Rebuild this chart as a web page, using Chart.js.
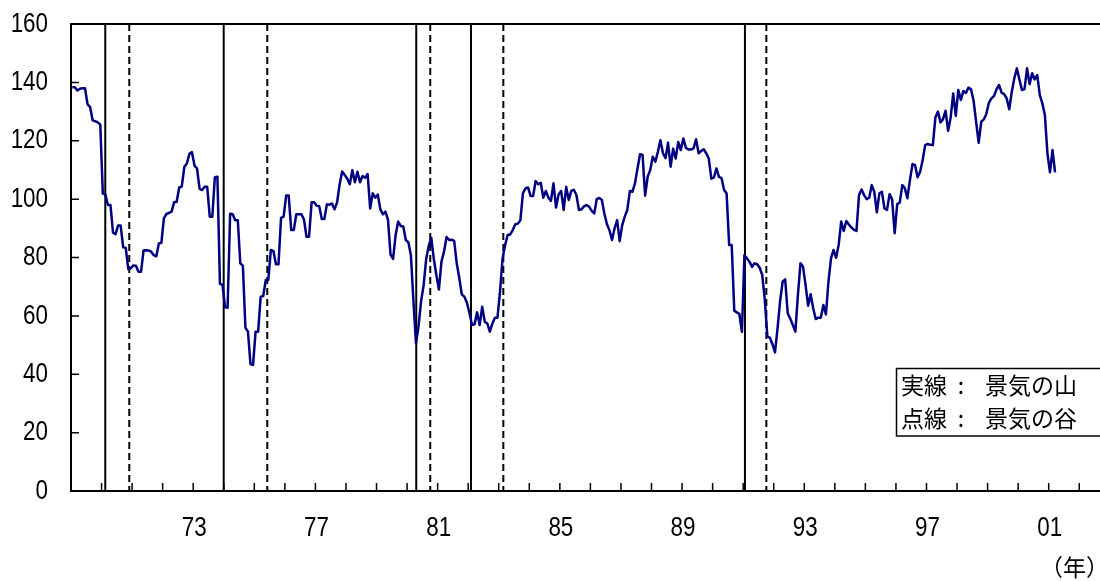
<!DOCTYPE html>
<html><head><meta charset="utf-8">
<script src="https://cdn.jsdelivr.net/npm/chart.js@4"></script>
<style>html,body{margin:0;padding:0;background:#fff;}#wrap{width:1100px;height:581px;}</style>
</head><body><div id="wrap"><canvas id="c" width="1100" height="581"></canvas></div>
<script>
// monthly index values, first value = Jan 1969
const startYear = 1969;
const series1969to1976 = [
  138.3,138.3,137.2,137.8,138,138,132.5,131.6,127,126.7,126.3,125.5,
  101.9,101.6,98,98,88.5,88,91,91,83.5,83.3,76,76.3,
  77.3,77.2,75.1,75.1,82.4,82.5,82.4,82,80.8,80.4,84.8,85,
  93.5,94.9,95.3,95.7,98.9,99.1,104,104.3,111,112.2,115.5,116.1,
  111.5,110.5,103.5,103.1,104.2,104.2,94,94,107.5,107.7,71,70.6,
  63,62.8,95,94.8,92.8,92.8,78,77.2,56,54.6,43.5,43.2,
  54.6,54.6,66.6,66.8,72.3,72.3,82.6,82.2,77.7,77.7,93.6,94,
  101.2,101.2,89.4,89.4,94.8,94.8,94.8,93,87.1,87.1,98.9,98.9
];
const series1977to1984 = [
  97.7,97.6,93.2,93.2,98.2,98.1,98.5,96.5,98.9,105,109.5,108.3,
  107,105.1,109.9,105.8,109.4,105.8,107.9,107.3,108.6,96.8,102,100.5,
  101.6,96.5,94.8,95.7,93,81,79.5,87.7,92.3,90.8,90.6,86,
  85.2,80.8,65,50.6,56.5,65,70.5,79.5,84,86.8,79.5,74,
  69,78.6,82,87,86,86.1,85.7,78,73,67.3,66.6,64.5,
  61,56.9,57.1,61.2,56.9,63.1,58,57.4,54.6,57.4,59.4,59.4,
  68.3,79.7,84.3,87.7,87.9,89.4,91.4,91.6,92.8,102,103.7,104,
  101.1,101.1,106.2,105.1,105.6,100.5,102.8,100.5,99.4,105.4,97.1,101.6
];
const series1985to1992 = [
  102.8,96.3,104.2,99.7,102.8,103.2,101.4,96.3,96.5,97.5,98,97.4,
  96,95.1,100,100.4,99.7,95,91.4,89.3,86,90,92.8,85.6,
  91.1,94,96.3,102.8,102.5,105.4,110.5,115.4,115.1,101.2,107.7,110,
  114.5,112.8,116.2,120.2,115.7,114,119.3,111.1,117.3,113.9,119.6,116.8,
  120.8,117.6,117,117,117.4,120.5,115.7,116.5,117.1,115.7,113.9,107,
  107.4,110.5,107.6,107.2,103.1,101.9,84.3,84.3,61.8,61.2,60.7,54.5,
  80.8,79.7,78.5,76.8,78,77.7,76.5,74,65.5,53,52.5,50.3,
  47.5,55.7,65,71.7,72.5,60.9,59,56.9,54.6,67.1,78,76.9
];
const series1993to2001 = [
  70.6,63.5,67.4,62.6,58.9,59.4,59.4,63.7,60.5,71.7,79.7,82.6,
  79.9,84.3,92.3,89.1,92.5,91.3,90.3,89.5,89.1,101.4,103.3,101.4,
  100,100.5,104.8,102.5,95.5,102,102.5,96.8,96.3,101.7,99.9,88.3,
  98.3,98.8,104.8,103.7,100.3,106.5,112,111.7,107.5,109.4,113.4,118.5,
  118.9,118.6,118.5,128,130,126.3,127.4,130.3,123.4,128,136.2,128.5,
  137.4,134,137,136.4,138.2,137.6,133.7,126.5,119.3,126.5,127.3,129.2,
  133,134.5,135.3,137.6,139.1,136.5,136,134.5,130.8,136.8,141.4,144.8,
  141,137.4,137.7,144.8,139.4,143.1,141,142.5,135.7,132.8,128.8,115.7,
  109.2,116.8,109.2
];
// business cycle marks, in months from Jan 1969 (as placed in the picture)
const peakMonths   = [12.96, 59.47, 135.1, 156.6, 264.2];  // 実線：景気の山
const troughMonths = [22.39, 76.59, 140.6, 169.3, 272.6];  // 点線：景気の谷
const yTickValues = [0,20,40,60,80,100,120,140,160];
const xLabelYears = [1973,1977,1981,1985,1989,1993,1997,2001];
const legendRows = [['実線','景気の山'],['点線','景気の谷']];
const yearUnit = '（年）';

const allValues = [].concat(series1969to1976, series1977to1984, series1985to1992, series1993to2001);
const points = allValues.map((v,i)=>({x:i, y:v}));

const NUM_FONT = '"Liberation Sans",Arial,sans-serif';
const JP_FONT = '"Noto Sans CJK JP","Noto Sans CJK SC",sans-serif';

function xTickLabel(v){
  const yr = startYear + Math.round((v+0.5)/12);
  return xLabelYears.includes(yr) ? String(yr%100).padStart(2,'0') : '';
}

function narrowText(ctx, text, x, y, align){
  ctx.save();
  ctx.translate(x, y);
  ctx.scale(0.8, 1);
  ctx.textAlign = align;
  ctx.textBaseline = 'middle';
  ctx.fillText(text, 0, 0);
  ctx.restore();
}

const marks = {
  id:'marks',
  beforeDatasetsDraw(chart){
    const {ctx, chartArea:a, scales:{x}} = chart;
    ctx.save();
    ctx.strokeStyle = '#000'; ctx.lineWidth = 2;
    peakMonths.forEach(m=>{ const px = x.getPixelForValue(m);
      ctx.setLineDash([]); ctx.beginPath(); ctx.moveTo(px,a.top); ctx.lineTo(px,a.bottom); ctx.stroke(); });
    troughMonths.forEach(m=>{ const px = x.getPixelForValue(m);
      ctx.setLineDash([7,4]); ctx.beginPath(); ctx.moveTo(px,a.top); ctx.lineTo(px,a.bottom); ctx.stroke(); });
    ctx.restore();
  },
  afterDraw(chart){
    const {ctx, chartArea:a, scales:{x,y}} = chart;
    ctx.save();
    ctx.strokeStyle='#000'; ctx.lineWidth=2; ctx.setLineDash([]);
    ctx.beginPath();
    ctx.moveTo(a.left, a.top); ctx.lineTo(a.right, a.top);
    ctx.moveTo(a.left, a.top-1); ctx.lineTo(a.left, a.bottom+1);
    ctx.moveTo(a.left-1, a.bottom); ctx.lineTo(a.right, a.bottom);
    ctx.stroke();
    ctx.lineWidth=1.5;
    ctx.beginPath();
    y.ticks.forEach(t=>{ const py=y.getPixelForValue(t.value); ctx.moveTo(a.left,py); ctx.lineTo(a.left+8,py); });
    x.ticks.forEach(t=>{ const px=x.getPixelForValue(t.value); ctx.moveTo(px,a.bottom); ctx.lineTo(px,a.bottom-8); });
    ctx.stroke();
    // tick labels (condensed look)
    ctx.fillStyle='#000';
    ctx.font='28px '+NUM_FONT;
    y.ticks.forEach(t=>{ narrowText(ctx, String(t.value), a.left-23, y.getPixelForValue(t.value), 'right'); });
    x.ticks.forEach(t=>{ const lab = xTickLabel(t.value); if(lab) narrowText(ctx, lab, x.getPixelForValue(t.value)+1, 528, 'center'); });
    // unit label
    ctx.font = '23px '+JP_FONT;
    ctx.textAlign='right'; ctx.textBaseline='middle';
    ctx.fillText(yearUnit, 1109, 567);
    // legend box
    ctx.fillStyle='#fff';
    ctx.fillRect(896,368,210,68);
    ctx.lineWidth=1.5; ctx.strokeStyle='#000';
    ctx.strokeRect(896.5,368.5,210,67.5);
    ctx.fillStyle='#000';
    ctx.font='23px '+JP_FONT;
    ctx.textBaseline='middle';
    legendRows.forEach((r,i)=>{
      const cy = 385 + i*33;
      ctx.textAlign='left'; ctx.fillText(r[0], 901, cy);
      ctx.textAlign='center'; ctx.fillText(':', 961, cy);
      ctx.textAlign='left'; ctx.fillText(r[1], 985, cy);
    });
    ctx.restore();
  }
};

new Chart(document.getElementById('c'), {
  type:'line',
  data:{datasets:[{data:points, borderColor:'#000080', borderWidth:2.5, pointRadius:0, tension:0, fill:false, borderJoinStyle:'round'}]},
  options:{
    responsive:false, animation:false,
    layout:{padding:{top:24,right:0,left:0,bottom:0}},
    plugins:{legend:{display:false}, tooltip:{enabled:false}},
    scales:{
      x:{type:'linear', min:-0.5, max:403.65,
        grid:{display:false, drawTicks:false}, border:{display:false},
        afterBuildTicks:s=>{ const t=[]; for(let k=1;k<=33;k++){ t.push({value:12*k-0.5}); } s.ticks=t; },
        ticks:{display:false, autoSkip:false, maxRotation:0, callback:xTickLabel},
        afterFit:s=>{ s.height=90; }
      },
      y:{min:0, max:160,
        grid:{display:false, drawTicks:false}, border:{display:false},
        afterBuildTicks:s=>{ s.ticks = yTickValues.map(v=>({value:v})); },
        ticks:{display:false},
        afterFit:s=>{ s.width=71; }
      }
    }
  },
  plugins:[marks]
});
</script></body></html>
